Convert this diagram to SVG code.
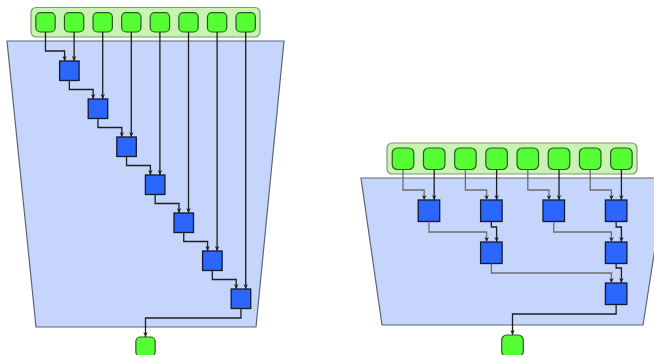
<svg xmlns="http://www.w3.org/2000/svg" width="654" height="355" viewBox="0 0 654 355">
<defs>
<marker id="ah" viewBox="0 0 10 10" refX="10" refY="5" markerWidth="5" markerHeight="5" markerUnits="userSpaceOnUse" orient="auto">
<path d="M0,0.5 L10,5 L0,9.5 L3,5 z" fill="#1e1e1e"/>
</marker>
<style>
.trap{fill:#c5d5fc;stroke:#5d6678;stroke-width:1.2}
.cont{fill:#c9f3b2;stroke:#7c9a72;stroke-width:1.2}
.g{fill:#55ff33;stroke:#2d5a24;stroke-width:1.2}
.b{fill:#2b66ff;stroke:#141a2a;stroke-width:1.3}
.c{fill:none;stroke:#1e1e1e;stroke-width:1.3;marker-end:url(#ah)}
.cg{fill:none;stroke:#6e6e6e;stroke-width:1.3;marker-end:url(#ah)}
</style>
</defs>
<g id="left-region">
<polygon class="trap" points="7,41 284,41 256,327 36,327"/>
</g>
<g id="right-region">
<polygon class="trap" points="361,178 666,178 643,325 382,325"/>
</g>
<g id="left-inputs">
<rect class="cont" x="31" y="7.5" width="229" height="29.5" rx="5"/>
<g id="L-in1"><rect class="g" x="35.85" y="12.7" width="19.3" height="19.3" rx="4.5"/></g>
<g id="L-in2"><rect class="g" x="64.45" y="12.7" width="19.3" height="19.3" rx="4.5"/></g>
<g id="L-in3"><rect class="g" x="93.05" y="12.7" width="19.3" height="19.3" rx="4.5"/></g>
<g id="L-in4"><rect class="g" x="121.65" y="12.7" width="19.3" height="19.3" rx="4.5"/></g>
<g id="L-in5"><rect class="g" x="150.25" y="12.7" width="19.3" height="19.3" rx="4.5"/></g>
<g id="L-in6"><rect class="g" x="178.85" y="12.7" width="19.3" height="19.3" rx="4.5"/></g>
<g id="L-in7"><rect class="g" x="207.45" y="12.7" width="19.3" height="19.3" rx="4.5"/></g>
<g id="L-in8"><rect class="g" x="236.05" y="12.7" width="19.3" height="19.3" rx="4.5"/></g>
</g>
<g id="L-op1"><rect class="b" x="59.6" y="61" width="19.5" height="19.5"/></g>
<g id="L-op2"><rect class="b" x="88.2" y="99" width="19.5" height="19.5"/></g>
<g id="L-op3"><rect class="b" x="116.8" y="137" width="19.5" height="19.5"/></g>
<g id="L-op4"><rect class="b" x="145.4" y="175" width="19.5" height="19.5"/></g>
<g id="L-op5"><rect class="b" x="174" y="213" width="19.5" height="19.5"/></g>
<g id="L-op6"><rect class="b" x="202.6" y="251" width="19.5" height="19.5"/></g>
<g id="L-op7"><rect class="b" x="231.2" y="289" width="19.5" height="19.5"/></g>
<g id="L-out"><rect class="g" x="135.85" y="337" width="19.3" height="19.3" rx="4.5"/></g>

<g id="right-inputs">
<rect class="cont" x="387" y="143" width="250" height="31" rx="5"/>
<g id="R-in1"><rect class="g" x="392.25" y="148" width="21.5" height="21.5" rx="5"/></g>
<g id="R-in2"><rect class="g" x="423.45" y="148" width="21.5" height="21.5" rx="5"/></g>
<g id="R-in3"><rect class="g" x="454.65" y="148" width="21.5" height="21.5" rx="5"/></g>
<g id="R-in4"><rect class="g" x="485.85" y="148" width="21.5" height="21.5" rx="5"/></g>
<g id="R-in5"><rect class="g" x="517.05" y="148" width="21.5" height="21.5" rx="5"/></g>
<g id="R-in6"><rect class="g" x="548.25" y="148" width="21.5" height="21.5" rx="5"/></g>
<g id="R-in7"><rect class="g" x="579.45" y="148" width="21.5" height="21.5" rx="5"/></g>
<g id="R-in8"><rect class="g" x="610.65" y="148" width="21.5" height="21.5" rx="5"/></g>
</g>
<g id="R-opA"><rect class="b" x="418.2" y="200" width="21.5" height="21.5"/></g>
<g id="R-opB"><rect class="b" x="480.6" y="200" width="21.5" height="21.5"/></g>
<g id="R-opC"><rect class="b" x="543" y="200" width="21.5" height="21.5"/></g>
<g id="R-opD"><rect class="b" x="605.4" y="200" width="21.5" height="21.5"/></g>
<g id="R-opE"><rect class="b" x="480.6" y="242" width="21.5" height="21.5"/></g>
<g id="R-opF"><rect class="b" x="605.4" y="242" width="21.5" height="21.5"/></g>
<g id="R-opG"><rect class="b" x="605.4" y="283" width="21.5" height="21.5"/></g>
<g id="R-out"><rect class="g" x="501.75" y="335" width="21.5" height="21.5" rx="5"/></g>

<g id="connectors">
<path class="c" d="M45.5,32 V51 H64.6 V61"/>
<path class="c" d="M74.1,32 V61"/>
<path class="c" d="M102.7,32 V99"/>
<path class="c" d="M131.3,32 V137"/>
<path class="c" d="M159.9,32 V175"/>
<path class="c" d="M188.5,32 V213"/>
<path class="c" d="M217.1,32 V251"/>
<path class="c" d="M245.7,32 V289"/>
<path class="c" d="M69.35,80.5 V89.5 H93.2 V99"/>
<path class="c" d="M97.95,118.5 V127.5 H121.8 V137"/>
<path class="c" d="M126.55,156.5 V165.5 H150.4 V175"/>
<path class="c" d="M155.15,194.5 V203.5 H179 V213"/>
<path class="c" d="M183.75,232.5 V241.5 H207.6 V251"/>
<path class="c" d="M212.35,270.5 V279.5 H236.2 V289"/>
<path class="c" d="M240.95,308.5 V318 H145.5 V337"/>

<path class="cg" d="M403,169.5 V190 H424.2 V200"/>
<path class="c" d="M434.2,169.5 V200"/>
<path class="cg" d="M465.4,169.5 V190 H486.6 V200"/>
<path class="c" d="M496.6,169.5 V200"/>
<path class="cg" d="M527.8,169.5 V190 H549 V200"/>
<path class="c" d="M559,169.5 V200"/>
<path class="cg" d="M590.2,169.5 V190 H611.4 V200"/>
<path class="c" d="M621.4,169.5 V200"/>
<path class="cg" d="M428.95,221.5 V232 H486.6 V242"/>
<path class="c" d="M491.35,221.5 V227 H496.6 V242"/>
<path class="cg" d="M553.75,221.5 V232 H611.4 V242"/>
<path class="c" d="M616.15,221.5 V227 H621.4 V242"/>
<path class="cg" d="M491.35,263.5 V273 H611.4 V283"/>
<path class="c" d="M616.15,263.5 V268 H621.4 V283"/>
<path class="c" d="M616.15,304.5 V314 H512.5 V335"/>
</g>
</svg>
